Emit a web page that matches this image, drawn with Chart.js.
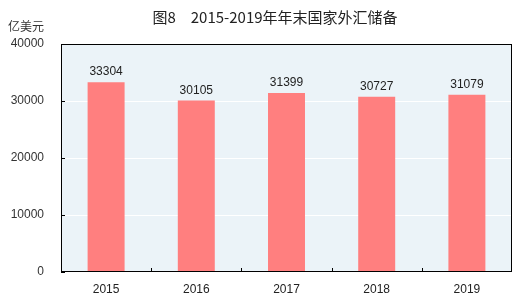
<!DOCTYPE html>
<html><head><meta charset="utf-8">
<script src="https://cdn.jsdelivr.net/npm/chart.js@4"></script>
<style>html,body{margin:0;padding:0;background:#fff}#w{width:530px;height:303px}</style>
</head><body><div id="w"><canvas id="c"></canvas></div>
<script>
const categories = ["2015","2016","2017","2018","2019"];
const reserves = [33304, 30105, 31399, 30727, 31079];
const yTicks = [0, 10000, 20000, 30000, 40000];
const titleText = "图8　2015-2019年年末国家外汇储备";
const unitText = "亿美元";

const numFont = "'Liberation Sans', Arial, sans-serif";
const cjkFont = "'Noto Sans CJK SC', sans-serif";

const deco = {
  id: 'deco',
  beforeDraw(chart) {
    const {ctx, chartArea: a} = chart;
    ctx.save();
    ctx.fillStyle = '#EBF3F8';
    ctx.fillRect(a.left, a.top, a.right - a.left, a.bottom - a.top);
    ctx.restore();
  },
  afterDraw(chart) {
    const {ctx, chartArea: a, scales} = chart;
    ctx.save();
    ctx.strokeStyle = '#000';
    ctx.lineWidth = 1;
    ctx.strokeRect(Math.round(a.left) + 0.5, Math.round(a.top) + 0.5, Math.round(a.right - a.left) - 1, Math.round(a.bottom - a.top) - 1);
    ctx.beginPath();
    yTicks.forEach(v => {
      const y = Math.round(scales.y.getPixelForValue(v)) + 0.5;
      ctx.moveTo(a.left, y); ctx.lineTo(a.left + 4, y);
    });
    for (let i = 1; i < categories.length; i++) {
      const x = Math.round((scales.x.getPixelForValue(i - 1) + scales.x.getPixelForValue(i)) / 2) + 0.5;
      ctx.moveTo(x, a.bottom); ctx.lineTo(x, a.bottom - 4);
    }
    ctx.stroke();
    ctx.fillStyle = '#222';
    ctx.font = '12px ' + numFont;
    ctx.textAlign = 'center';
    ctx.textBaseline = 'bottom';
    const meta = chart.getDatasetMeta(0);
    meta.data.forEach((bar, i) => {
      ctx.fillText(String(reserves[i]), bar.x, bar.y - 4);
    });
    ctx.fillStyle = '#222';
    ctx.font = '15px ' + cjkFont;
    ctx.textBaseline = 'middle';
    ctx.fillText(titleText, 275, 17);
    ctx.font = '12px ' + cjkFont;
    ctx.textAlign = 'left';
    ctx.fillStyle = '#333';
    ctx.fillText(unitText, 8, 26);
    ctx.restore();
  }
};

new Chart(document.getElementById('c'), {
  type: 'bar',
  data: {
    labels: categories,
    datasets: [{
      data: reserves,
      backgroundColor: '#FF7F7F',
      barPercentage: 0.82,
      categoryPercentage: 0.5
    }]
  },
  options: {
    responsive: true,
    maintainAspectRatio: false,
    animation: false,
    layout: { padding: { top: 44, right: 18, left: 0, bottom: 0 } },
    plugins: { legend: { display: false }, tooltip: { enabled: false } },
    scales: {
      x: {
        grid: { display: false, drawTicks: false },
        border: { display: false },
        ticks: { color: '#222', font: { family: numFont, size: 12 }, padding: 10 },
        afterFit(s) { s.height = 31; }
      },
      y: {
        min: 0, max: 40000,
        afterBuildTicks(s) { s.ticks = yTicks.map(v => ({ value: v })); },
        grid: { color: '#FFFFFF', drawTicks: false, lineWidth: 1 },
        border: { display: false },
        ticks: { color: '#333', font: { family: numFont, size: 12 }, padding: 17, callback: v => String(v) },
        afterFit(s) { s.width = 61; }
      }
    }
  },
  plugins: [deco]
});
</script>
</body></html>
